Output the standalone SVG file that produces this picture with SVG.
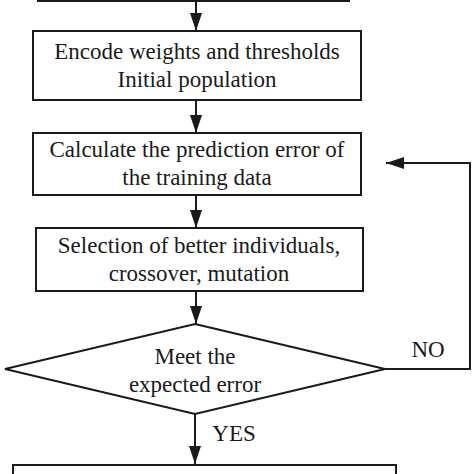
<svg xmlns="http://www.w3.org/2000/svg" width="474" height="474" viewBox="0 0 474 474">
<defs>
<marker id="arr" viewBox="0 0 18 12" refX="18" refY="6" markerWidth="18" markerHeight="12" markerUnits="userSpaceOnUse" orient="auto">
<path d="M0,0 L18,6 L0,12 z" fill="#1a1a1a"/>
</marker>
</defs>
<style>
.box{fill:#fff;stroke:#1a1a1a;stroke-width:2}
.ln{fill:none;stroke:#1a1a1a;stroke-width:2}
text{font-family:"Liberation Serif","Times New Roman",serif;font-size:23px;fill:#1a1a1a;text-anchor:middle}
</style>
<rect width="474" height="474" fill="#fff"/>
<g id="top-box"><rect class="box" x="38" y="-50" width="311" height="51"/></g>
<g id="encode"><rect class="box" x="33" y="31" width="328" height="69"/>
<text x="197" y="59">Encode weights and thresholds</text>
<text x="197" y="87">Initial population</text></g>
<g id="calc"><rect class="box" x="33" y="133" width="328" height="62"/>
<text x="197" y="157">Calculate the prediction error of</text>
<text x="197" y="185">the training data</text></g>
<g id="select"><rect class="box" x="36" y="228" width="327" height="63"/>
<text x="199" y="253">Selection of better individuals,</text>
<text x="199" y="281">crossover, mutation</text></g>
<g id="decision"><polygon class="box" points="195,324 385,369 195,414 5,369"/>
<text x="195" y="364">Meet the</text>
<text x="195" y="392">expected error</text></g>
<g id="bottom-box"><rect class="box" x="13" y="465" width="383" height="40"/></g>
<g id="connectors">
<line class="ln" x1="196" y1="1" x2="196" y2="31" marker-end="url(#arr)"/>
<line class="ln" x1="196" y1="100" x2="196" y2="133" marker-end="url(#arr)"/>
<line class="ln" x1="196" y1="195" x2="196" y2="228" marker-end="url(#arr)"/>
<line class="ln" x1="196" y1="291" x2="196" y2="324" marker-end="url(#arr)"/>
<line class="ln" x1="195" y1="414" x2="195" y2="464" marker-end="url(#arr)"/>
<polyline class="ln" points="385,369 470,369 470,163 386,163" marker-end="url(#arr)"/>
<text x="428" y="357">NO</text>
<text x="234" y="441">YES</text>
</g>
</svg>
